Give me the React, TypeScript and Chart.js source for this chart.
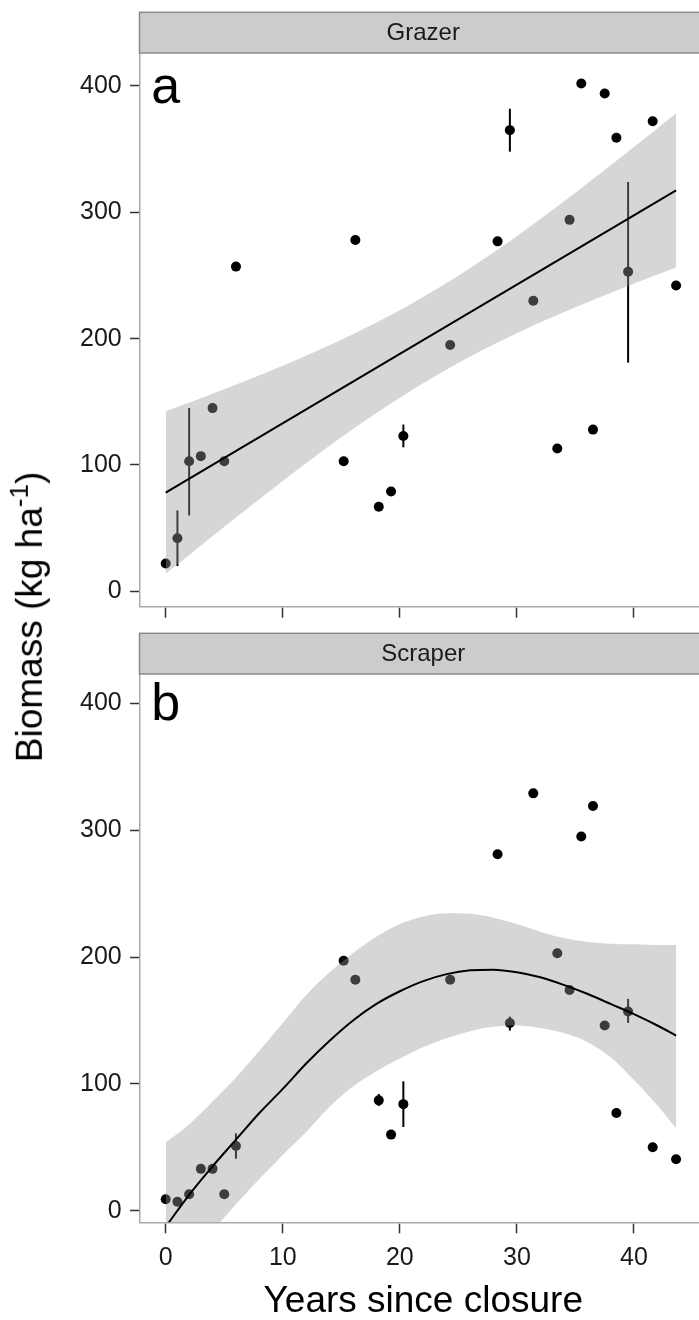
import React, { useEffect, useRef } from "react";
import { Chart, registerables } from "chart.js";

Chart.register(...registerables);
Chart.defaults.font.family = '"Liberation Sans", Arial, Helvetica, sans-serif';

// ---------- data ----------
const years = [0, 1, 2, 3, 4, 5, 6, 15.2, 16.2, 18.2, 19.25, 20.3, 24.3, 28.35, 29.4, 31.4, 33.45, 34.5, 35.5, 36.5, 37.5, 38.5, 39.5, 41.6, 43.6];

const grazerBiomass = [22, 42, 103, 107, 145, 103, 257, 103, 278, 67, 79, 123, 195, 277, 365, 230, 113, 294, 402, 128, 394, 359, 253, 372, 242];
const grazerErrLow = [null, 20, 60, null, null, null, null, null, null, null, null, 114, null, null, 348, null, null, null, null, null, null, null, 181, null, null];
const grazerErrHigh = [null, 64, 145, null, null, null, null, null, null, null, null, 132, null, null, 382, null, null, null, null, null, null, null, 324, null, null];

const scraperBiomass = [9, 7, 13, 33, 33, 13, 51, 197, 182, 87, 60, 84, 182, 281, 148, 329, 203, 174, 295, 319, 146, 77, 157, 50, 40.5];
const scraperErrLow = [null, null, null, null, null, null, 41, null, null, 82.5, null, 66, null, null, 142, null, null, null, null, null, null, null, 148, null, null];
const scraperErrHigh = [null, null, null, null, null, null, 61, null, null, 92, null, 102, null, null, 153, null, null, null, null, null, null, null, 167, null, null];

// fitted line (grazer) and its confidence band
const grazerFitYears = [0, 43.6];
const grazerFit = [78.2, 317.3];
const grazerBandYears = [0, 5, 10, 15, 20, 25, 30, 35, 40, 43.6];
const grazerBandUpper = [142.5, 160, 178.6, 199.1, 222.5, 249.8, 281.1, 315.4, 351.6, 378.3];
const grazerBandLower = [13.9, 51.2, 87.4, 121.9, 153.3, 180.8, 204.3, 224.8, 243.6, 256.3];

// fitted curve (scraper) and its confidence band
const scraperCurveYears = [0, 2, 4, 6, 8, 10, 12, 14, 16, 18, 20, 22, 24, 26, 28, 30, 32, 34, 36, 38, 40, 42, 43.6];
const scraperFit = [-12.7, 12.5, 35, 56, 77, 96, 116, 134, 150, 163, 173, 181, 186.5, 189.5, 190, 188, 184, 178, 171, 163, 155, 146, 138];
const scraperBandUpper = [54, 68, 86, 105, 126, 148, 170, 188, 203, 216, 226, 232, 234.5, 234, 231, 226, 220, 215, 212, 210.5, 210, 209.5, 209.5];
const scraperBandLower = [-60, -38, -16, 5, 25, 44, 62, 82, 98, 110, 120, 129, 136, 141.5, 145, 146, 144, 140, 133, 121, 103, 83, 65];

const xTicks = [0, 10, 20, 30, 40];
const yTicks = [0, 100, 200, 300, 400];

const xTitle = "Years since closure";

type Panel = {
  strip: string;
  letter: string;
  values: number[];
  errLow: (number | null)[];
  errHigh: (number | null)[];
  fitX: number[];
  fitY: number[];
  bandX: number[];
  bandUpper: number[];
  bandLower: number[];
  yMin: number;
  yMax: number;
  padTop: number;
  xAxisHeight: number;
  showXLabels: boolean;
};

const X_MIN = -2.24;
const X_MAX = 46.24;

const grazerPanel: Panel = {
  strip: "Grazer",
  letter: "a",
  values: grazerBiomass,
  errLow: grazerErrLow,
  errHigh: grazerErrHigh,
  fitX: grazerFitYears,
  fitY: grazerFit,
  bandX: grazerBandYears,
  bandUpper: grazerBandUpper,
  bandLower: grazerBandLower,
  yMin: -12.17,
  yMax: 426.07,
  padTop: 53,
  xAxisHeight: 22.3,
  showXLabels: false,
};

const scraperPanel: Panel = {
  strip: "Scraper",
  letter: "b",
  values: scraperBiomass,
  errLow: scraperErrLow,
  errHigh: scraperErrHigh,
  fitX: scraperCurveYears,
  fitY: scraperFit,
  bandX: scraperCurveYears,
  bandUpper: scraperBandUpper,
  bandLower: scraperBandLower,
  yMin: -9.14,
  yMax: 423.1,
  padTop: 44,
  xAxisHeight: 97.7,
  showXLabels: true,
};

const STRIP_H = 40.7;

function decorPlugin(p: Panel) {
  return {
    id: "decor_" + p.letter,
    beforeDatasetsDraw(chart: any) {
      const { ctx } = chart;
      const xs = chart.scales.x;
      const ys = chart.scales.y;
      ctx.save();
      ctx.strokeStyle = "#000";
      ctx.lineWidth = 2;
      years.forEach((yr, i) => {
        const lo = p.errLow[i];
        const hi = p.errHigh[i];
        if (lo == null || hi == null) return;
        const px = xs.getPixelForValue(yr);
        ctx.beginPath();
        ctx.moveTo(px, ys.getPixelForValue(lo));
        ctx.lineTo(px, ys.getPixelForValue(hi));
        ctx.stroke();
      });
      ctx.restore();
    },
    afterDraw(chart: any) {
      const { ctx, chartArea } = chart;
      const xs = chart.scales.x;
      const ys = chart.scales.y;
      ctx.save();
      const top = chartArea.top - STRIP_H;
      ctx.fillStyle = "#cccccc";
      ctx.fillRect(chartArea.left, top, chartArea.right - chartArea.left, STRIP_H);
      ctx.strokeStyle = "#8a8a8a";
      ctx.lineWidth = 1.5;
      ctx.strokeRect(chartArea.left, top, chartArea.right - chartArea.left, STRIP_H);
      ctx.fillStyle = "#1a1a1a";
      ctx.font = '24px "Liberation Sans", Arial, sans-serif';
      ctx.textAlign = "center";
      ctx.textBaseline = "middle";
      ctx.fillText(p.strip, (chartArea.left + chartArea.right) / 2, top + STRIP_H / 2 + 1);
      ctx.fillStyle = "#000";
      ctx.font = '52px "Liberation Sans", Arial, sans-serif';
      ctx.textBaseline = "alphabetic";
      ctx.fillText(p.letter, xs.getPixelForValue(0), ys.getPixelForValue(400) + 17);
      ctx.restore();
    },
  };
}

function makeConfig(p: Panel): any {
  const pts = years.map((x, i) => ({ x, y: p.values[i] }));
  const upper = p.bandX.map((x, i) => ({ x, y: p.bandUpper[i] }));
  const lower = p.bandX.map((x, i) => ({ x, y: p.bandLower[i] }));
  const fit = p.fitX.map((x, i) => ({ x, y: p.fitY[i] }));
  return {
    type: "line",
    data: {
      datasets: [
        {
          label: "observed",
          data: pts,
          showLine: false,
          pointRadius: 5,
          pointBackgroundColor: "#000",
          pointBorderWidth: 0,
          pointBorderColor: "#000",
          order: 3,
        },
        {
          label: "upper",
          data: upper,
          fill: "+1",
          backgroundColor: "rgba(153,153,153,0.4)",
          borderColor: "rgba(0,0,0,0)",
          borderWidth: 0,
          pointRadius: 0,
          cubicInterpolationMode: "monotone",
          order: 2,
        },
        {
          label: "lower",
          data: lower,
          fill: false,
          borderColor: "rgba(0,0,0,0)",
          borderWidth: 0,
          pointRadius: 0,
          cubicInterpolationMode: "monotone",
          order: 2,
        },
        {
          label: "fit",
          data: fit,
          fill: false,
          borderColor: "#000",
          borderWidth: 2,
          pointRadius: 0,
          cubicInterpolationMode: "monotone",
          order: 1,
        },
      ],
    },
    options: {
      responsive: false,
      animation: false,
      events: [],
      layout: { padding: { top: p.padTop, left: 0, right: 0, bottom: 0 } },
      plugins: {
        legend: { display: false },
        tooltip: { enabled: false },
      },
      scales: {
        x: {
          type: "linear",
          min: X_MIN,
          max: X_MAX,
          afterBuildTicks: (s: any) => {
            s.ticks = xTicks.map((v) => ({ value: v }));
          },
          afterFit: (s: any) => {
            s.height = p.xAxisHeight;
          },
          grid: {
            drawOnChartArea: false,
            drawTicks: true,
            tickLength: 11,
            tickColor: "#333",
            tickWidth: 1.5,
          },
          border: { display: true, color: "#aaaaaa", width: 1.5 },
          ticks: {
            display: p.showXLabels,
            color: "#1a1a1a",
            font: { size: 25 },
            padding: 10,
            maxRotation: 0,
            autoSkip: false,
          },
          title: {
            display: p.showXLabels,
            text: xTitle,
            color: "#000",
            font: { size: 37, lineHeight: 1 },
            padding: { top: 0, bottom: 0 },
          },
        },
        y: {
          type: "linear",
          min: p.yMin,
          max: p.yMax,
          afterBuildTicks: (s: any) => {
            s.ticks = yTicks.map((v) => ({ value: v }));
          },
          afterFit: (s: any) => {
            s.width = 139.5;
          },
          grid: {
            drawOnChartArea: false,
            drawTicks: true,
            tickLength: 9.5,
            tickColor: "#333",
            tickWidth: 1.5,
          },
          border: { display: true, color: "#aaaaaa", width: 1.5 },
          ticks: {
            color: "#1a1a1a",
            font: { size: 25 },
            padding: 8.3,
          },
        },
      },
    },
    plugins: [decorPlugin(p)],
  };
}

export default function App() {
  const refA = useRef<HTMLCanvasElement>(null);
  const refB = useRef<HTMLCanvasElement>(null);
  useEffect(() => {
    const a = new Chart(refA.current as HTMLCanvasElement, makeConfig(grazerPanel));
    const b = new Chart(refB.current as HTMLCanvasElement, makeConfig(scraperPanel));
    return () => {
      a.destroy();
      b.destroy();
    };
  }, []);
  return (
    <div
      style={{
        position: "absolute",
        left: 0,
        top: 0,
        width: 699,
        height: 1320,
        overflow: "hidden",
        background: "#fff",
      }}
    >
      <canvas ref={refA} width={712} height={630} style={{ position: "absolute", left: 0, top: 0 }} />
      <canvas ref={refB} width={712} height={690} style={{ position: "absolute", left: 0, top: 630 }} />
      <div
        style={{
          position: "absolute",
          left: 26.5,
          top: 617,
          transform: "translate(-50%, -50%) rotate(-90deg)",
          whiteSpace: "nowrap",
          fontFamily: '"Liberation Sans", Arial, sans-serif',
          fontSize: 37,
          lineHeight: "37px",
          color: "#000",
        }}
      >
        Biomass (kg ha<span style={{ fontSize: 26, verticalAlign: "0.55em", lineHeight: "26px" }}>-1</span>)
      </div>
    </div>
  );
}
